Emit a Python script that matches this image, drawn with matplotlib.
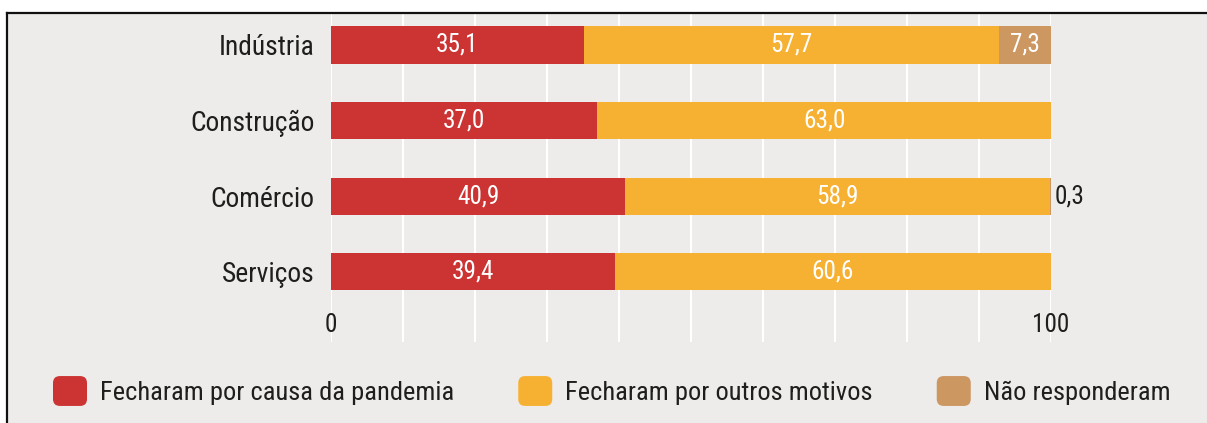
import numpy as np
import matplotlib
matplotlib.use('Agg')
from matplotlib import pyplot as plt
from matplotlib import font_manager
from matplotlib.font_manager import FontProperties
from matplotlib.textpath import TextPath
from matplotlib.patches import Rectangle, FancyBboxPatch
from matplotlib.lines import Line2D
from matplotlib.legend_handler import HandlerPatch

# data
setores = ['Indústria', 'Construção', 'Comércio', 'Serviços']
pandemia = [35.1, 37.0, 40.9, 39.4]
outros = [57.7, 63.0, 58.9, 60.6]
nao_resp = [7.3, 0.0, 0.3, 0.0]
series_names = ['Fecharam por causa da pandemia', 'Fecharam por outros motivos', 'Não responderam']
colors = ['#cc3333', '#f6b133', '#cd9761']

# the original uses a condensed sans: pick the installed one whose width/cap-height fits best
legend_txt = series_names[0]
target = 350 / 18.5


def width(s, fp):
    return TextPath((0, 0), s, size=1, prop=fp).get_extents().width


def ratio(fp):
    hc = TextPath((0, 0), 'H', size=1, prop=fp).get_extents().height
    return width(legend_txt, fp) / hc


def proportional(fp):
    return width('iiiiii', fp) < 0.6 * width('MMMMMM', fp)


cands = [FontProperties(family='Roboto')]
seen = set()
for f in font_manager.fontManager.ttflist:
    if f.style != 'normal' or f.weight not in (400, 'normal', 'regular'):
        continue
    if any(k in f.name for k in ('Mono', 'Serif', 'Math', 'CJK', 'Symbol')):
        continue
    if not (f.stretch != 'normal' or 'Condensed' in f.name or 'Narrow' in f.name):
        continue
    key = (f.name, f.stretch)
    if key in seen:
        continue
    seen.add(key)
    fp = FontProperties(family=f.name, stretch=f.stretch)
    if proportional(fp):
        cands.append(fp)
best = min(cands, key=lambda fp: abs(ratio(fp) - target))
plt.rcParams['font.family'] = [best.get_family()[0], 'DejaVu Sans']
plt.rcParams['font.stretch'] = best.get_stretch()


def fit(s, px):
    # font size (pt) so that s is px wide at 100 dpi
    return px * 0.72 / width(s, best)


sz_cat = fit('Construção', 122)
sz_val = fit('40,9', 40)
sz_tick = fit('100', 34)
sz_leg = fit(legend_txt, 350)
txt_color = '#1e1e1e'
bg = '#edecea'

W, H = 1207, 423
fig = plt.figure(figsize=(W / 100, H / 100), dpi=100)
fig.patch.set_facecolor('white')

# grey panel with left/top border
fig.add_artist(Rectangle((7 / W, 0), 1, 1 - 13 / H, transform=fig.transFigure,
                         facecolor=bg, edgecolor='none', zorder=0))
fig.add_artist(Line2D([7 / W, 1], [1 - 13 / H, 1 - 13 / H], transform=fig.transFigure,
                      color='#111111', lw=1.6))
fig.add_artist(Line2D([7 / W, 7 / W], [0, 1 - 13 / H], transform=fig.transFigure,
                      color='#111111', lw=1.6))

ax = fig.add_axes([331 / W, 1 - 342 / H, 720 / W, 328 / H])
ax.set_facecolor('none')

y = np.arange(len(setores))
h = 0.49
left = np.zeros(len(setores))
conts = []
for vals, c, name in zip([pandemia, outros, nao_resp], colors, series_names):
    b = ax.barh(y, vals, height=h, left=left, color=c, label=name, zorder=2)
    conts.append(b)
    left = left + np.array(vals)


def fmt(v):
    return ('%.1f' % v).replace('.', ',')


for cont, vals in zip(conts, [pandemia, outros, nao_resp]):
    inside = [fmt(v) if v >= 1 else '' for v in vals]
    outside = [fmt(v) if 0 < v < 1 else '' for v in vals]
    ax.bar_label(cont, labels=inside, label_type='center', color='white', fontsize=sz_val)
    ax.bar_label(cont, labels=outside, label_type='edge', color=txt_color, fontsize=sz_val,
                 padding=2, annotation_clip=False)

ax.set_xlim(0, 100)
ax.set_ylim(3.93, -0.41)
ax.set_yticks(y)
ax.set_yticklabels(setores, fontsize=sz_cat, color=txt_color)
ax.set_xticks(np.arange(0, 101, 10))
ax.set_xticklabels(['0'] + [''] * 9 + ['100'], fontsize=sz_tick, color=txt_color)
ax.tick_params(axis='y', length=0, pad=12)
ax.tick_params(axis='x', length=0, pad=-21)
ax.grid(axis='x', color='white', lw=1.5, zorder=1)
ax.set_axisbelow(True)
for s in ax.spines.values():
    s.set_visible(False)


def round_box(legend, orig_handle, xdescent, ydescent, width, height, fontsize):
    return FancyBboxPatch((-xdescent + 3, -ydescent + 3), width - 6, height - 6,
                          boxstyle='round,pad=3,rounding_size=5', mutation_scale=1)


leg_px = sz_leg * 100 / 72
handles = [c.patches[0] for c in conts]
fig.legend(handles=handles, labels=series_names, loc='center left',
           bbox_to_anchor=(53 / W, 1 - 391 / H), ncol=3, frameon=False,
           fontsize=sz_leg, labelcolor=txt_color, handlelength=34 / leg_px, handleheight=36 / leg_px,
           handletextpad=13 / leg_px, columnspacing=64 / leg_px, borderpad=0, borderaxespad=0,
           handler_map={p: HandlerPatch(patch_func=round_box) for p in handles})

fig.savefig('out.png', dpi=100, facecolor=fig.get_facecolor())
